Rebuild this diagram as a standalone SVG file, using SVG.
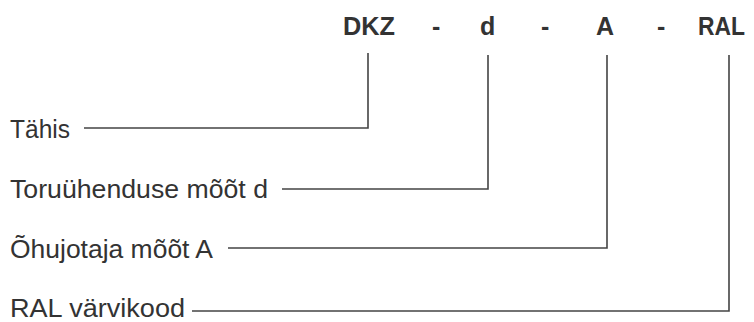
<svg xmlns="http://www.w3.org/2000/svg" width="754" height="322" viewBox="0 0 754 322">
<style>
.h{font-family:"Liberation Sans",Arial,sans-serif;font-size:25px;font-weight:bold;fill:#333}
.l{font-family:"Liberation Sans",Arial,sans-serif;font-size:25px;fill:#333}
.c{fill:none;stroke:#444;stroke-width:1.6}
</style>
<rect width="754" height="322" fill="#fff"/>
<g id="code">
<text class="h" x="343" y="35" textLength="52" lengthAdjust="spacingAndGlyphs">DKZ</text>
<text class="h" x="432" y="35">-</text>
<text class="h" x="480" y="35">d</text>
<text class="h" x="541" y="35">-</text>
<text class="h" x="596" y="35">A</text>
<text class="h" x="657" y="35">-</text>
<text class="h" x="698" y="35" textLength="47" lengthAdjust="spacingAndGlyphs">RAL</text>
</g>
<g id="label-tahis"><text class="l" x="10" y="138" textLength="60" lengthAdjust="spacingAndGlyphs">Tähis</text></g>
<g id="label-toru"><text class="l" x="10" y="198" textLength="258" lengthAdjust="spacingAndGlyphs">Toruühenduse mõõt d</text></g>
<g id="label-ohu"><text class="l" x="10" y="258" textLength="203" lengthAdjust="spacingAndGlyphs">Õhujotaja mõõt A</text></g>
<g id="label-ral"><text class="l" x="10" y="317" textLength="175" lengthAdjust="spacingAndGlyphs">RAL värvikood</text></g>
<g id="connectors">
<polyline class="c" points="84,128 368,128 368,53"/>
<polyline class="c" points="282,189 488,189 488,55"/>
<polyline class="c" points="228,248 607,248 607,55"/>
<polyline class="c" points="192,311 729,311 729,55"/>
</g>
</svg>
